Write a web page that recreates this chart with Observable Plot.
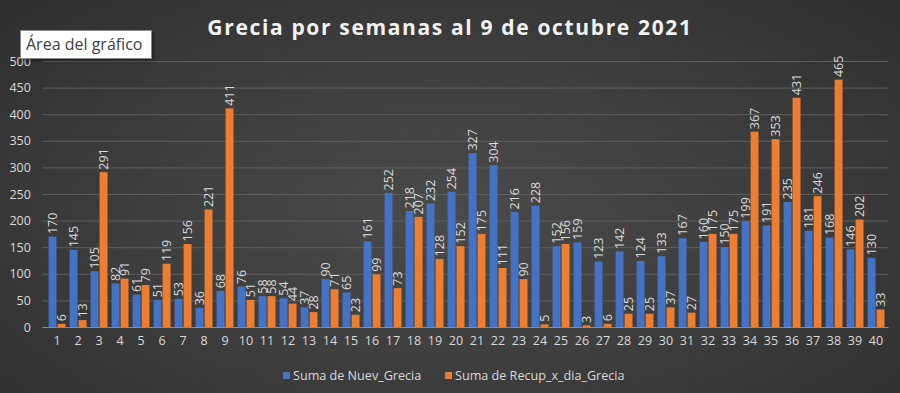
<!DOCTYPE html>
<html>
<head>
<meta charset="utf-8">
<script src="https://cdn.jsdelivr.net/npm/d3@7"></script>
<script src="https://cdn.jsdelivr.net/npm/@observablehq/plot@0.6"></script>
<style>
  html, body { margin: 0; padding: 0; }
  body { width: 900px; height: 393px; overflow: hidden; }
  #wrap {
    position: relative; width: 900px; height: 393px;
    background: radial-gradient(ellipse 70% 80% at 50% 55%, #4a4a4a 0%, #3f3f3f 45%, #2e2e2e 100%);
    font-family: "Open Sans", "Noto Sans", sans-serif;
  }
  #title {
    position: absolute; left: 0; top: 13px; width: 900px; text-align: center;
    font-size: 21px; font-weight: bold; letter-spacing: 1.65px; color: #f2f2f2;
  }
  #tip {
    position: absolute; left: 20px; top: 30px; width: 132px; height: 29px;
    background: #ffffff; border: 1px solid #8a8a8a; box-sizing: border-box;
    color: #404040; font-size: 16px; line-height: 26px; padding-left: 5px;
    box-shadow: 2px 2px 3px rgba(0,0,0,0.4);
  }
  #chart { position: absolute; left: 0; top: 50px; }
  #legend {
    position: absolute; top: 367px; left: 0; width: 900px;
    font-size: 12.6px; color: #d9d9d9;
  }
  .li { position: absolute; top: 0; display: flex; align-items: center; }
  .sw { width: 7px; height: 7px; margin-right: 3px; }
</style>
</head>
<body>
<div id="wrap">
  <div id="title">Grecia por semanas al 9 de octubre 2021</div>
  <div id="chart"></div>
  <div id="tip">Área del gráfico</div>
  <div id="legend">
    <div class="li" style="left:283px"><div class="sw" style="background:#4472c4"></div>Suma de Nuev_Grecia</div>
    <div class="li" style="left:445px"><div class="sw" style="background:#ed7d31"></div>Suma de Recup_x_dia_Grecia</div>
  </div>
</div>
<script>
const weeks = d3.range(1, 41);
const nuevGrecia = [170,145,105,82,61,51,53,36,68,76,58,54,37,90,65,161,252,218,232,254,327,304,216,228,152,159,123,142,124,133,167,160,150,199,191,235,181,168,146,130];
const recupGrecia = [6,13,291,91,79,119,156,221,411,51,58,44,28,71,23,99,73,207,128,152,175,111,90,5,156,3,6,25,25,37,27,175,175,367,353,431,246,465,202,33];
const yTicks = [0,50,100,150,200,250,300,350,400,450,500];

const nuev = weeks.map((w, i) => ({week: w, value: nuevGrecia[i]}));
const recup = weeks.map((w, i) => ({week: w, value: recupGrecia[i]}));

const labelColor = "#d9d9d9";
const font = "Open Sans, Noto Sans, sans-serif";

const chart = Plot.plot({
  width: 900,
  height: 305,
  marginTop: 11,
  marginBottom: 28,
  marginLeft: 42.4,
  marginRight: 11.4,
  style: {background: "transparent", color: labelColor, fontFamily: font, fontSize: "12.5px"},
  x: {type: "band", domain: weeks, padding: 0, label: null, tickSize: 0, tickPadding: 9},
  y: {domain: [0, 500], ticks: yTicks, label: null, tickSize: 0, tickPadding: 12},
  marks: [
    Plot.ruleY(yTicks.slice(1), {stroke: "#5e5e5e", strokeWidth: 1}),
    Plot.barY(nuev, {x: "week", y: "value", fill: "#4472c4", insetLeft: 2.6, insetRight: 10.5}),
    Plot.barY(recup, {x: "week", y: "value", fill: "#ed7d31", insetLeft: 11.6, insetRight: 1.5}),
    Plot.ruleY([0], {stroke: "#8c8c8c", strokeWidth: 1.2}),
    Plot.text(nuev, {x: "week", y: "value", text: d => String(d.value), rotate: -90, textAnchor: "start", lineAnchor: "middle", dx: -4.5, dy: -3, fill: labelColor, fontSize: 12.5}),
    Plot.text(recup, {x: "week", y: "value", text: d => String(d.value), rotate: -90, textAnchor: "start", lineAnchor: "middle", dx: 4.5, dy: -3, fill: labelColor, fontSize: 12.5})
  ]
});
document.getElementById("chart").appendChild(chart);
</script>
</body>
</html>
